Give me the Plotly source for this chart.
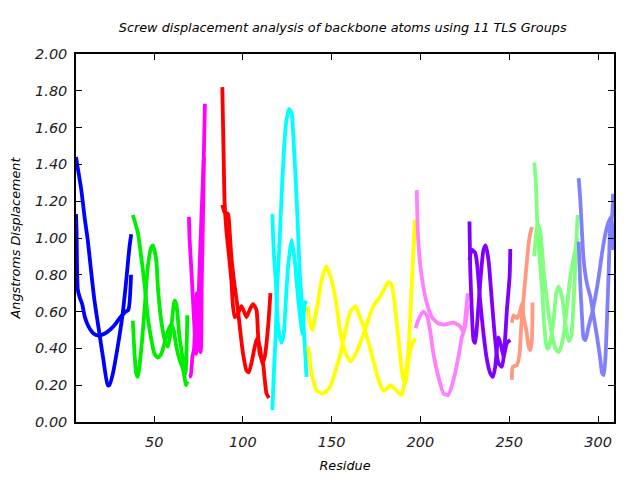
import plotly.graph_objects as go

# ---- Data (residue, displacement in Angstroms) ----
blue_a_res = [6, 7, 9, 11, 12.6, 14.5, 16.4, 19.2, 21.4, 23.9, 24.8, 26.7, 29.5, 32.3, 34.3, 36.1, 37.1]
blue_a_val = [1.44, 1.38, 1.26, 1.10, 0.99, 0.82, 0.66, 0.48, 0.34, 0.20, 0.20, 0.26, 0.41, 0.59, 0.77, 0.95, 1.02]
blue_b_res = [6, 6.3, 7, 8, 9.5, 11, 13, 16, 19, 22, 25, 28, 31, 34, 35.5, 37]
blue_b_val = [1.13, 1.04, 0.72, 0.68, 0.64, 0.57, 0.52, 0.48, 0.47, 0.48, 0.50, 0.53, 0.57, 0.60, 0.61, 0.80]

green_a_res = [38, 40.8, 42.7, 44.6, 46.4, 48.4, 50.2, 52.1, 54, 55.9, 57.7, 59.5, 61, 62.5, 64.3, 66.2, 68, 68.7]
green_a_val = [1.125, 1.03, 0.90, 0.75, 0.57, 0.45, 0.37, 0.35, 0.37, 0.43, 0.49, 0.53, 0.50, 0.41, 0.34, 0.29, 0.20, 0.22]
green_b_res = [38, 38.8, 39.9, 40.8, 42.7, 44.6, 46.4, 48.4, 49.3, 51.2, 52.1, 54, 55.9, 57.7, 59.5, 61.5, 62.5, 64.3, 66.2, 67.6, 68.7]
green_b_val = [0.55, 0.40, 0.265, 0.245, 0.39, 0.61, 0.84, 0.95, 0.96, 0.88, 0.735, 0.55, 0.45, 0.41, 0.50, 0.66, 0.64, 0.46, 0.34, 0.26, 0.58]

magenta_a_res = [69.6, 70, 70.9, 71.8, 72.8, 73.8, 74.5, 75.3, 76.2, 77.2, 78, 78.6]
magenta_a_val = [1.115, 0.99, 0.84, 0.68, 0.50, 0.37, 0.45, 0.75, 1.00, 1.25, 1.45, 1.73]
magenta_b_res = [69.6, 70.5, 71.5, 72.5, 73.3, 74.0, 74.8, 75.5, 76.2, 76.8, 77.5, 78.0]
magenta_b_val = [0.245, 0.25, 0.35, 0.40, 0.60, 0.70, 0.60, 0.40, 0.38, 0.75, 1.10, 1.44]

red_a_res = [88.4, 89.2, 89.7, 90.7, 92.2, 93.5, 94.4, 95.4, 97.2, 99.2, 102, 103.8, 105.7, 107.6, 108.5, 109.5, 111.3, 112.3, 113.3, 114.7]
red_a_val = [1.82, 1.42, 1.19, 1.04, 0.90, 0.77, 0.63, 0.57, 0.59, 0.63, 0.57, 0.61, 0.64, 0.61, 0.48, 0.37, 0.32, 0.23, 0.155, 0.13]
red_b_res = [88.4, 89.7, 91.6, 92.5, 93.5, 95.4, 97.2, 98.2, 100.1, 102, 103.3, 104.8, 106.7, 108, 109.5, 111, 112.3, 114.2, 115.5]
red_b_val = [1.18, 1.14, 1.13, 1.04, 0.90, 0.735, 0.61, 0.52, 0.37, 0.28, 0.27, 0.32, 0.41, 0.455, 0.41, 0.32, 0.355, 0.52, 0.70]

cyan_a_res = [116.6, 117.4, 118.5, 119.3, 120.4, 121.7, 123, 124.2, 125.4, 127.4, 129.2, 130.5, 132, 133.6, 134.5, 135.4]
cyan_a_val = [1.13, 0.92, 0.77, 0.59, 0.48, 0.43, 0.48, 0.66, 0.84, 0.99, 0.88, 0.735, 0.59, 0.48, 0.62, 0.66]
cyan_b_res = [116.6, 117.4, 118.5, 119.3, 120.4, 121.7, 123, 124.5, 126, 127.4, 128.3, 129.8, 131.1, 132, 133.6, 134.9, 135.8]
cyan_b_val = [0.065, 0.265, 0.48, 0.735, 0.93, 1.21, 1.46, 1.64, 1.70, 1.68, 1.57, 1.30, 1.03, 0.81, 0.59, 0.41, 0.245]

yellow_a_res = [136.7, 137.5, 139.2, 140.5, 142.4, 144.5, 147.1, 149.9, 152.8, 154.6, 156.5, 158.5, 160.8, 164, 168.7, 173.4, 177.2, 180, 181.9, 183.5, 184.7, 187.5, 189, 190.4, 191.5, 192.5, 194.2, 196.9]
yellow_a_val = [0.63, 0.55, 0.50, 0.56, 0.66, 0.78, 0.845, 0.77, 0.63, 0.50, 0.42, 0.36, 0.33, 0.38, 0.50, 0.63, 0.68, 0.73, 0.76, 0.75, 0.70, 0.46, 0.32, 0.23, 0.21, 0.28, 0.39, 0.455]
yellow_b_res = [136.7, 138.7, 141.5, 145.2, 149, 152.8, 154.6, 156.5, 158.5, 160.5, 163.5, 165.5, 168.7, 172.5, 176.3, 179.1, 181, 182.8, 184.5, 185.7, 187.5, 189.4, 191.3, 193.2, 195.1, 196.9]
yellow_b_val = [0.41, 0.265, 0.17, 0.155, 0.19, 0.30, 0.36, 0.44, 0.53, 0.60, 0.63, 0.58, 0.50, 0.37, 0.23, 0.17, 0.18, 0.20, 0.19, 0.18, 0.16, 0.147, 0.23, 0.39, 0.75, 1.10]

pink_a_res = [197.9, 198.5, 199.8, 201.6, 203.6, 206.4, 210.1, 213.9, 218.6, 222.3, 224.2, 225.5, 226.7]
pink_a_val = [1.26, 1.04, 0.86, 0.735, 0.645, 0.57, 0.535, 0.53, 0.54, 0.52, 0.49, 0.59, 0.70]
pink_b_res = [197.3, 198.8, 201.6, 203.6, 205.4, 207.3, 210.1, 213, 215.7, 218.6, 221.4, 223.3, 225.2, 226.7]
pink_b_val = [0.51, 0.555, 0.60, 0.58, 0.50, 0.37, 0.245, 0.155, 0.147, 0.23, 0.355, 0.46, 0.52, 0.64]

purple_a_res = [227.6, 228, 228.9, 229.9, 230.8, 231.8, 233.6, 235.5, 236.8, 238.3, 240.2, 242.1, 243.9, 245.9, 247.2, 248.7, 250.2, 250.6]
purple_a_val = [1.09, 0.84, 0.61, 0.445, 0.43, 0.52, 0.75, 0.935, 0.96, 0.88, 0.66, 0.445, 0.32, 0.30, 0.39, 0.61, 0.79, 0.94]
purple_b_res = [227.6, 228.9, 230.8, 232.1, 233.6, 235.5, 237.4, 239.3, 240.8, 242.1, 243.9, 245.3, 246.8, 248.7, 250.6]
purple_b_val = [0.88, 0.935, 0.92, 0.84, 0.66, 0.48, 0.34, 0.265, 0.245, 0.30, 0.46, 0.42, 0.355, 0.43, 0.445]

salmon_a_res = [251.5, 252, 254.3, 255.8, 256.6, 257.5, 258.5, 260, 261.5, 262.8]
salmon_a_val = [0.23, 0.30, 0.31, 0.37, 0.50, 0.61, 0.72, 0.88, 1.01, 1.06]
salmon_b_res = [251.5, 252.4, 254.3, 255.8, 257.2, 258.1, 259.6, 260.9, 261.9, 262.8, 263.1]
salmon_b_val = [0.54, 0.58, 0.565, 0.59, 0.645, 0.57, 0.50, 0.41, 0.39, 0.46, 0.65]

lgreen_a_res = [264.1, 265, 265.6, 266.5, 267.5, 268.5, 269.4, 270.3, 271.3, 272, 273.1, 275, 276.5, 277.8, 279.7, 281.6, 283.5, 284.8, 286.3, 287.6, 288.5]
lgreen_a_val = [1.41, 1.30, 1.12, 0.97, 0.84, 0.72, 0.57, 0.46, 0.40, 0.40, 0.44, 0.56, 0.70, 0.735, 0.68, 0.54, 0.44, 0.46, 0.66, 0.935, 1.125]
lgreen_b_res = [264.1, 265, 266, 267.5, 268.5, 269.4, 270.5, 272, 274, 276, 277.8, 279.5, 281, 282.5, 284, 286, 287.6, 288.5]
lgreen_b_val = [0.90, 1.01, 1.08, 1.03, 0.935, 0.82, 0.72, 0.60, 0.48, 0.40, 0.38, 0.42, 0.50, 0.62, 0.76, 0.88, 0.95, 1.00]

lblue_a_res = [289.1, 290, 291, 291.9, 293.8, 295.7, 297.6, 299.5, 301.3, 302.3, 303.2, 304.2, 305.1, 306.1, 307, 307.9, 308.5]
lblue_a_val = [1.325, 1.21, 1.025, 0.88, 0.75, 0.68, 0.57, 0.46, 0.34, 0.265, 0.255, 0.355, 0.57, 0.845, 1.08, 1.115, 1.24]
lblue_b_res = [289.1, 290, 291, 291.9, 292.9, 294.7, 296.6, 298.5, 300.4, 302.3, 304.2, 306.1, 307.4, 308.5]
lblue_b_val = [0.98, 0.75, 0.57, 0.455, 0.445, 0.52, 0.59, 0.68, 0.79, 0.92, 1.025, 1.09, 1.115, 0.935]

group_colors = ["#0000FF", "#00EE00", "#FF00FF", "#FF0000", "#00FFFF", "#FFFF00",
                "#FF80FF", "#8000FF", "#FF9980", "#80FF80", "#8080FF"]

x_ticks = [50, 100, 150, 200, 250, 300]
y_ticks = [0.0, 0.2, 0.4, 0.6, 0.8, 1.0, 1.2, 1.4, 1.6, 1.8, 2.0]

groups = [
    (blue_a_res, blue_a_val, blue_b_res, blue_b_val),
    (green_a_res, green_a_val, green_b_res, green_b_val),
    (magenta_a_res, magenta_a_val, magenta_b_res, magenta_b_val),
    (red_a_res, red_a_val, red_b_res, red_b_val),
    (cyan_a_res, cyan_a_val, cyan_b_res, cyan_b_val),
    (yellow_a_res, yellow_a_val, yellow_b_res, yellow_b_val),
    (pink_a_res, pink_a_val, pink_b_res, pink_b_val),
    (purple_a_res, purple_a_val, purple_b_res, purple_b_val),
    (salmon_a_res, salmon_a_val, salmon_b_res, salmon_b_val),
    (lgreen_a_res, lgreen_a_val, lgreen_b_res, lgreen_b_val),
    (lblue_a_res, lblue_a_val, lblue_b_res, lblue_b_val),
]

fig = go.Figure()
for (ar, av, br, bv), col in zip(groups, group_colors):
    for xs, ys in ((ar, av), (br, bv)):
        fig.add_trace(go.Scatter(
            x=xs, y=ys, mode="lines",
            line=dict(color=col, width=3.8, shape="spline", smoothing=0.6),
            showlegend=False, hoverinfo="skip"))

font_family = "DejaVu Sans"
title_font = dict(family=font_family, size=12.8, color="black", style="italic")
axis_common = dict(
    showgrid=False, zeroline=False, showline=True, linecolor="black", linewidth=1.5,
    mirror="ticks", ticks="inside", ticklen=6, tickwidth=1, tickcolor="black",
    automargin=False,
    tickfont=dict(family=font_family, size=14.5, color="#222222", style="italic"),
)

fig.update_layout(
    width=640, height=480,
    paper_bgcolor="white", plot_bgcolor="white",
    margin=dict(l=68, r=34, t=46, b=66),
    title=dict(
        text="Screw displacement analysis of backbone atoms using 11 TLS Groups",
        x=0.523, xanchor="center", y=0.96, yanchor="middle",
        font=title_font),
    xaxis=dict(range=[6, 309], tickvals=x_ticks, ticktext=[str(t) for t in x_ticks],
               ticklabelstandoff=6,
               title=dict(text="Residue", standoff=12, font=title_font),
               **axis_common),
    yaxis=dict(range=[0, 2.0], tickvals=y_ticks, ticktext=[f"{t:.2f}" for t in y_ticks],
               ticklabelstandoff=4,
               title=dict(text="Angstroms Displacement", standoff=15, font=title_font),
               **axis_common),
)

fig.write_html("out.html")
